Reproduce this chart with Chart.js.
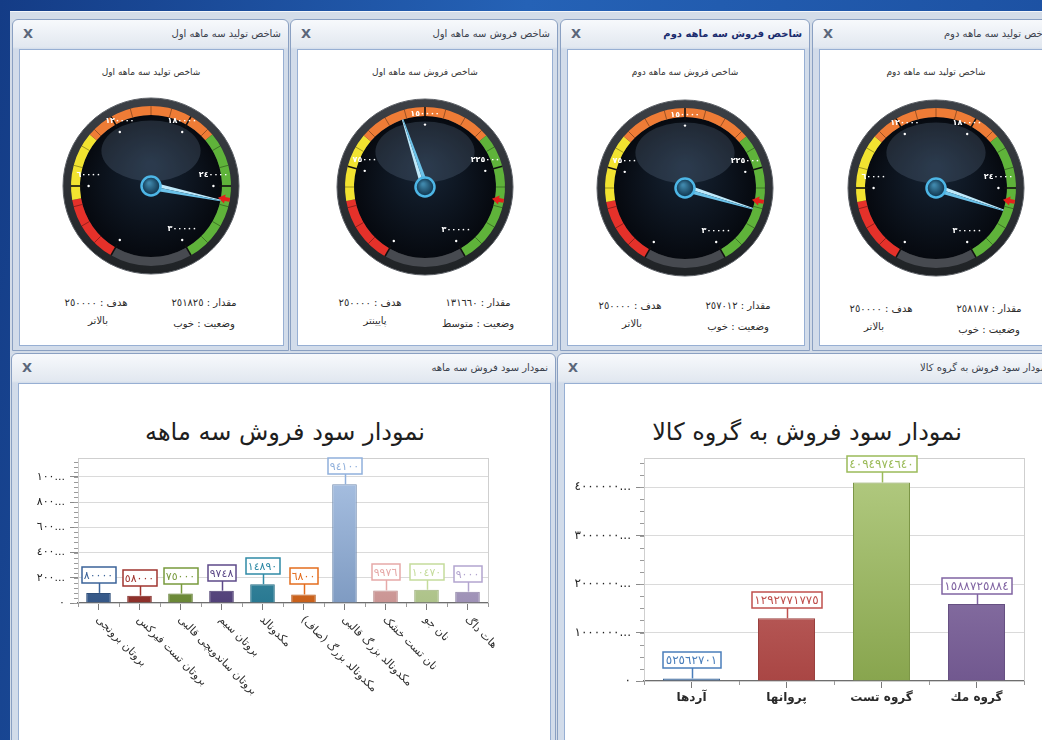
<!DOCTYPE html>
<html lang="fa">
<head>
  <meta charset="UTF-8" />
  <title>داشبورد فروش و تولید</title>
  <script src="https://cdn.jsdelivr.net/npm/chart.js"></script>
  <style>
    body {
      margin: 0;
      width: 1042px;
      height: 740px;
      overflow: hidden;
      position: relative;
      font-family: 'DejaVu Sans', sans-serif;
      background: linear-gradient(100deg, #143c86 0%, #2562b6 45%, #1b4e9f 100%);
    }
    .mdi {
      position: absolute;
      left: 10px; top: 11px;
      width: 1100px; height: 800px;
      background: #d3dce8;
      border-top: 1px solid #f2f5f9;
    }
    .panel {
      position: absolute;
      box-sizing: border-box;
      border: 1px solid #8aa0c2;
      border-radius: 6px 6px 0 0;
      background: linear-gradient(#f7f9fc 0, #e2e8f0 27px, #d2dcea 29px, #d2dcea 100%);
      overflow: hidden;
    }
    .panel .cap {
      position: absolute;
      right: 7px; top: 0;
      height: 28px; line-height: 28px;
      font-size: 10px;
      color: #3a414c;
      white-space: nowrap;
      direction: rtl;
    }
    .panel .cap.active { font-weight: bold; color: #1a2c6e; }
    .panel .x {
      position: absolute;
      left: 10px; top: 6px;
      font: bold 13px 'DejaVu Sans', sans-serif;
      color: #5a667a;
    }
    .panel .inner {
      position: absolute;
      left: 6px; right: 4px; top: 29px; bottom: 4px;
      background: #fff;
      border: 1px solid #97afd3;
    }
    .txt {
      position: absolute;
      transform: translate(-50%, -50%);
      white-space: nowrap;
      direction: rtl;
      color: #2b2b2b;
    }
    .head { font-size: 9px; color: #333; }
    .info { font-size: 10px; }
    .big { font-size: 24px; color: #1e1e1e; }
    canvas { position: absolute; }
  </style>
</head>
<body>
  <div class="mdi"></div>

  <script>
    // ---- gauges ----
    const gaugeTitles = ['شاخص تولید سه ماهه اول', 'شاخص فروش سه ماهه اول', 'شاخص  فروش سه ماهه دوم', 'شاخص تولید سه ماهه دوم'];
    const gaugeValues = [251825, 131660, 257012, 258187];
    const gaugeTargets = [250000, 250000, 250000, 250000];
    const gaugeSteps = [60000, 75000, 75000, 60000];
    const gaugeStates = ['خوب', 'متوسط', 'خوب', 'خوب'];
    const gaugeCompare = ['بالاتر', 'پایینتر', 'بالاتر', 'بالاتر'];
    const gaugeMax = 300000;
    const gaugeGap = 60000;              // dead part of the dial at the bottom
    const bandSizes = [50000, 50000, 100000, 100000];
    const bandColors = ['#e5312a', '#f2e330', '#ef7c36', '#5fb33a'];

    // ---- bar charts ----
    const quarterTitle = 'نمودار سود فروش سه ماهه';
    const quarterItems = ['بروتان برونجی', 'بروتان تست فیرکس', 'بروتان ساندویچی قالبی', 'بروتان سیم', 'مکدونالد',
      'مکدونالد بزرگ (صاف)', 'مکدونالد بزرگ قالبی', 'نان تست خشک', 'نان جو', 'هات داگ'];
    const quarterValues = [80000, 58000, 75000, 97480, 148900, 68000, 941000, 99760, 104700, 90000];
    const quarterShown = ['80000', '58000', '75000', '9748', '14890', '6800', '94100', '9976', '10470', '9000'];
    const quarterColors = ['#3b6399', '#a0352f', '#789a3d', '#5d4a89', '#2f8aa6', '#e46d1e', '#90b0dc', '#e6a9a8', '#c5dc9c', '#b3a5cf'];

    const groupTitle = 'نمودار سود فروش به گروه کالا';
    const groupItems = ['آردها', 'پروانها', 'گروه تست', 'گروه مك'];
    const groupValues = [52562701, 1292771775, 4094974640, 1588725884];
    const groupColors = ['#4a7ebb', '#c0504d', '#9bbb59', '#8064a2'];

    const toAr = s => String(s).replace(/\d/g, d => '٠١٢٣٤٥٦٧٨٩'[d]);
    const FONT = 'DejaVu Sans';

    // ---- layout helpers ----
    function panel(left, top, width, height, title, active) {
      const p = document.createElement('div');
      p.className = 'panel';
      Object.assign(p.style, { left: left + 'px', top: top + 'px', width: width + 'px', height: height + 'px' });
      p.innerHTML = `<div class="cap${active ? ' active' : ''}">${title}</div><div class="x">X</div><div class="inner"></div>`;
      document.body.appendChild(p);
    }
    function text(x, y, str, cls) {
      const d = document.createElement('div');
      d.className = 'txt ' + cls;
      d.style.left = x + 'px';
      d.style.top = y + 'px';
      d.textContent = str;
      document.body.appendChild(d);
    }
    function canvas(left, top, w, h) {
      const c = document.createElement('canvas');
      c.width = w; c.height = h;
      c.style.left = left + 'px';
      c.style.top = top + 'px';
      document.body.appendChild(c);
      return c;
    }
    function shade(hex, f) {
      const n = parseInt(hex.slice(1), 16);
      const ch = [n >> 16, (n >> 8) & 255, n & 255].map(v => Math.round(f > 0 ? v + (255 - v) * f : v * (1 + f)));
      return `rgb(${ch.join(',')})`;
    }

    // ---- gauge drawing ----
    const gaugeDecor = {
      id: 'gaugeDecor',
      beforeDatasetsDraw(chart) {
        const { x, y, outerRadius: ro, innerRadius: ri } = chart.getDatasetMeta(0).data[0];
        const ctx = chart.ctx;
        ctx.save();
        ctx.beginPath();
        ctx.arc(x, y, ro + 8, 0, Math.PI * 2);
        const rg = ctx.createLinearGradient(0, y - ro - 8, 0, y + ro + 8);
        rg.addColorStop(0, '#3c4046');
        rg.addColorStop(1, '#1f2225');
        ctx.fillStyle = rg;
        ctx.fill();
        ctx.lineWidth = 1;
        ctx.strokeStyle = '#5d6167';
        ctx.stroke();
        ctx.beginPath();
        ctx.arc(x, y, ri, 0, Math.PI * 2);
        const dg = ctx.createRadialGradient(x, y - 20, 5, x, y, ri);
        dg.addColorStop(0, '#152232');
        dg.addColorStop(1, '#06090f');
        ctx.fillStyle = dg;
        ctx.fill();
        ctx.clip();
        ctx.beginPath();
        ctx.ellipse(x, y - 0.44 * ro, 0.62 * ro, 0.38 * ro, 0, 0, Math.PI * 2);
        ctx.fillStyle = 'rgba(125,145,175,0.22)';
        ctx.fill();
        ctx.restore();
      },
      afterDatasetsDraw(chart) {
        const ctx = chart.ctx;
        const { x, y, outerRadius: ro, innerRadius: ri } = chart.getDatasetMeta(0).data[0];
        const ticks = chart.getDatasetMeta(1).data;
        const steps = chart.data.datasets[1].data;
        const radial = (a, r1, r2) => {
          ctx.beginPath();
          ctx.moveTo(x + Math.cos(a) * r1, y + Math.sin(a) * r1);
          ctx.lineTo(x + Math.cos(a) * r2, y + Math.sin(a) * r2);
          ctx.stroke();
        };
        ctx.save();
        // minor ticks on the band
        ctx.strokeStyle = 'rgba(0,0,0,0.35)';
        ctx.lineWidth = 1;
        ticks.slice(0, -1).forEach((t, i) => {
          const sub = Math.round(steps[i] / 15000);
          for (let k = 1; k < sub; k++) radial(t.startAngle + (t.endAngle - t.startAngle) * k / sub, ri, ro);
        });
        // major ticks, dots and labels
        ctx.strokeStyle = '#111';
        ctx.lineWidth = 1.6;
        ctx.fillStyle = '#fff';
        ctx.font = `bold 8px "${FONT}"`;
        ctx.textAlign = 'center';
        ctx.textBaseline = 'middle';
        let acc = 0;
        ticks.forEach((t, i) => {
          const a = t.startAngle;
          radial(a, ri - 3, ro);
          const px = x + Math.cos(a) * ro * 0.78, py = y + Math.sin(a) * ro * 0.78;
          ctx.beginPath();
          ctx.arc(px, py, 1.2, 0, Math.PI * 2);
          ctx.fill();
          if (i) ctx.fillText(toAr(acc), px, py - 11);
          acc += steps[i];
        });
        // target arrow
        const tA = chart.getDatasetMeta(3).data[0].endAngle;
        ctx.save();
        ctx.translate(x, y);
        ctx.rotate(tA);
        ctx.beginPath();
        ctx.moveTo(ri - 3, 0);
        ctx.lineTo(ri + 4, -4.5);
        ctx.lineTo(ri + 4, -2);
        ctx.lineTo(ri + 9, -2);
        ctx.lineTo(ri + 9, 2);
        ctx.lineTo(ri + 4, 2);
        ctx.lineTo(ri + 4, 4.5);
        ctx.closePath();
        ctx.fillStyle = '#e3201b';
        ctx.fill();
        ctx.restore();
        // needle
        const nA = chart.getDatasetMeta(2).data[0].endAngle;
        ctx.save();
        ctx.translate(x, y);
        ctx.rotate(nA);
        ctx.beginPath();
        ctx.moveTo(0, -4);
        ctx.lineTo(ri, -0.8);
        ctx.lineTo(ri, 0);
        ctx.lineTo(0, 0);
        ctx.fillStyle = '#bfe9fa';
        ctx.fill();
        ctx.beginPath();
        ctx.moveTo(0, 0);
        ctx.lineTo(ri, 0);
        ctx.lineTo(ri, 0.8);
        ctx.lineTo(0, 4);
        ctx.fillStyle = '#6cc3ea';
        ctx.fill();
        ctx.restore();
        // hub
        ctx.beginPath();
        ctx.arc(x, y, 9.5, 0, Math.PI * 2);
        const hg = ctx.createRadialGradient(x - 2, y - 3, 1, x, y, 9.5);
        hg.addColorStop(0, '#3f87ab');
        hg.addColorStop(1, '#0d2f47');
        ctx.fillStyle = hg;
        ctx.fill();
        ctx.lineWidth = 2.5;
        ctx.strokeStyle = '#4db6e6';
        ctx.stroke();
        ctx.restore();
      }
    };

    function gauge(i, cx, cy) {
      const c = canvas(cx - 95, cy - 95, 190, 190);
      const tickData = [];
      for (let v = 0; v < gaugeMax; v += gaugeSteps[i]) tickData.push(gaugeSteps[i]);
      tickData.push(gaugeGap);
      const full = gaugeMax + gaugeGap;
      new Chart(c, {
        type: 'doughnut',
        data: {
          datasets: [
            { data: bandSizes.concat([gaugeGap]), backgroundColor: bandColors.concat(['#474a50']), weight: 1 },
            { data: tickData, backgroundColor: 'transparent', weight: 0 },
            { data: [gaugeValues[i], full - gaugeValues[i]], backgroundColor: 'transparent', weight: 0 },
            { data: [gaugeTargets[i], full - gaugeTargets[i]], backgroundColor: 'transparent', weight: 0 }
          ]
        },
        options: {
          responsive: false,
          animation: false,
          events: [],
          rotation: -150,
          circumference: 360,
          cutout: '88.75%',
          borderWidth: 0,
          layout: { padding: 15 },
          plugins: { legend: { display: false }, tooltip: { enabled: false } }
        },
        plugins: [gaugeDecor]
      });
    }

    // ---- bar chart helpers ----
    const fade = cols => c => {
      const a = c.chart.chartArea;
      const col = cols[c.dataIndex];
      if (!a) return col;
      const g = c.chart.ctx.createLinearGradient(0, a.top, 0, a.bottom);
      g.addColorStop(0, shade(col, 0.25));
      g.addColorStop(1, shade(col, -0.12));
      return g;
    };

    const frame = (minorY, step) => ({
      id: 'frame',
      beforeDatasetsDraw(chart) {
        const { ctx, chartArea: a, scales: { x, y } } = chart;
        ctx.save();
        ctx.strokeStyle = '#cfcfcf';
        ctx.lineWidth = 1;
        ctx.strokeRect(a.left + 0.5, a.top + 0.5, a.width, a.height);
        ctx.strokeStyle = '#9a9a9a';
        const gap = (y.getPixelForValue(0) - y.getPixelForValue(step)) / minorY;
        for (let p = y.getPixelForValue(0); p >= a.top; p -= gap) {
          ctx.beginPath();
          ctx.moveTo(a.left - 4, Math.round(p) + 0.5);
          ctx.lineTo(a.left, Math.round(p) + 0.5);
          ctx.stroke();
        }
        const half = (x.getPixelForValue(1) - x.getPixelForValue(0)) / 2;
        for (let i = 0; i <= chart.data.labels.length; i++) {
          const px = Math.round(x.getPixelForValue(0) + (2 * i - 1) * half) + 0.5;
          ctx.beginPath();
          ctx.moveTo(px, a.bottom);
          ctx.lineTo(px, a.bottom + 4);
          ctx.stroke();
        }
        ctx.restore();
      }
    });

    const valueBoxes = (shown, cols, size, pad) => ({
      id: 'valueBoxes',
      afterDatasetsDraw(chart) {
        const ctx = chart.ctx;
        ctx.save();
        ctx.font = `${size}px "${FONT}"`;
        ctx.textAlign = 'center';
        ctx.textBaseline = 'middle';
        chart.getDatasetMeta(0).data.forEach((bar, i) => {
          const t = toAr(shown[i]);
          const w = Math.round(ctx.measureText(t).width + pad * 2);
          const h = 16;
          const bottom = Math.round(bar.y) - 10;
          const left = Math.round(bar.x - w / 2);
          ctx.strokeStyle = cols[i];
          ctx.lineWidth = 1.5;
          ctx.beginPath();
          ctx.moveTo(Math.round(bar.x) + 0.5, bar.y);
          ctx.lineTo(Math.round(bar.x) + 0.5, bottom);
          ctx.stroke();
          ctx.fillStyle = '#fff';
          ctx.fillRect(left, bottom - h, w, h);
          ctx.strokeRect(left, bottom - h, w, h);
          ctx.fillStyle = cols[i];
          ctx.fillText(t, bar.x, bottom - h / 2 + 1);
        });
        ctx.restore();
      }
    });

    const slantedLabels = {
      id: 'slantedLabels',
      afterDraw(chart) {
        const { ctx, scales: { x } } = chart;
        ctx.save();
        ctx.font = `11px "${FONT}"`;
        ctx.fillStyle = '#2e2e2e';
        ctx.textAlign = 'left';
        ctx.textBaseline = 'middle';
        chart.data.labels.forEach((lab, i) => {
          ctx.save();
          ctx.translate(x.getPixelForValue(i) - 1, x.top + 15);
          ctx.rotate(Math.PI / 4);
          ctx.fillText(lab, 0, 0);
          ctx.restore();
        });
        ctx.restore();
      }
    };

    function barChart(c, opt) {
      return new Chart(c, {
        type: 'bar',
        data: {
          labels: opt.labels,
          datasets: [{
            data: opt.values,
            backgroundColor: fade(opt.colors),
            borderColor: opt.colors.map(col => shade(col, -0.2)),
            borderWidth: 1,
            barPercentage: 0.6,
            categoryPercentage: 1
          }]
        },
        options: {
          responsive: false,
          animation: false,
          events: [],
          layout: { padding: opt.padding },
          plugins: { legend: { display: false }, tooltip: { enabled: false } },
          scales: {
            x: {
              grid: { offset: false, drawOnChartArea: false, tickLength: 7, tickColor: '#7a7a7a' },
              border: { color: '#6e6e6e', width: 1.5 },
              ticks: opt.xTicks,
              afterFit: s => { s.height = opt.xHeight; }
            },
            y: {
              min: 0,
              max: opt.max,
              ticks: {
                padding: opt.yPad,
                color: '#1e1e1e',
                font: { family: FONT, size: opt.yFont },
                callback: v => v === 0 ? '٠' : toAr(v).slice(0, opt.digits) + '...'
              },
              afterBuildTicks: s => {
                const list = [];
                for (let v = 0; v <= opt.max; v += opt.step) list.push({ value: v });
                s.ticks = list;
              },
              grid: { color: '#dadada', tickColor: '#8a8a8a', tickLength: 8 },
              border: { color: '#8c8c8c' },
              afterFit: s => { s.width = opt.yWidth; }
            }
          }
        },
        plugins: opt.plugins
      });
    }

    // ---- build page ----
    const tops = [[12, 277], [290, 268], [560, 250], [812, 250]];
    const centers = [[151, 186], [425, 187], [685, 188], [936, 188]];
    const infoY = [302, 302, 305, 308];
    const leftShift = [-53, -50, -53, -62];
    tops.forEach(([l, w], i) => panel(l, 19, w, 332, gaugeTitles[i], i === 2));
    panel(11, 353, 545, 400, quarterTitle, false);
    panel(557, 353, 500, 400, groupTitle, false);

    centers.forEach(([cx, cy], i) => {
      const ty = infoY[i];
      text(cx, 72, gaugeTitles[i], 'head');
      gauge(i, cx, cy);
      text(cx - 55, ty, 'هدف : ' + toAr(gaugeTargets[i]), 'info');
      text(cx + 53, ty, 'مقدار : ' + toAr(gaugeValues[i]), 'info');
      text(cx + leftShift[i], ty + 18, gaugeCompare[i], 'info');
      text(cx + 53, ty + 21, 'وضعیت : ' + gaugeStates[i], 'info');
    });

    text(285, 432, quarterTitle, 'big');
    text(807, 432, groupTitle, 'big');

    barChart(canvas(18, 384, 532, 356), {
      labels: quarterItems,
      values: quarterValues,
      colors: quarterColors,
      max: 1150000,
      step: 200000,
      digits: 3,
      yFont: 11,
      yWidth: 52,
      yPad: 5,
      xHeight: 137,
      padding: { left: 8, top: 74, right: 62, bottom: 0 },
      xTicks: { callback: () => '' },
      plugins: [frame(5, 200000), valueBoxes(quarterShown, quarterColors, 11, 2), slantedLabels]
    });

    barChart(canvas(564, 384, 478, 356), {
      labels: groupItems,
      values: groupValues,
      colors: groupColors,
      max: 4600000000,
      step: 1000000000,
      digits: 7,
      yFont: 12,
      yWidth: 72,
      yPad: 5,
      xHeight: 59,
      padding: { left: 8, top: 74, right: 18, bottom: 0 },
      xTicks: { padding: 3, color: '#2a2a2a', font: { family: FONT, size: 12, weight: 'bold' } },
      plugins: [frame(4, 1000000000), valueBoxes(groupValues, groupColors, 12, 3)]
    });
  </script>
</body>
</html>
